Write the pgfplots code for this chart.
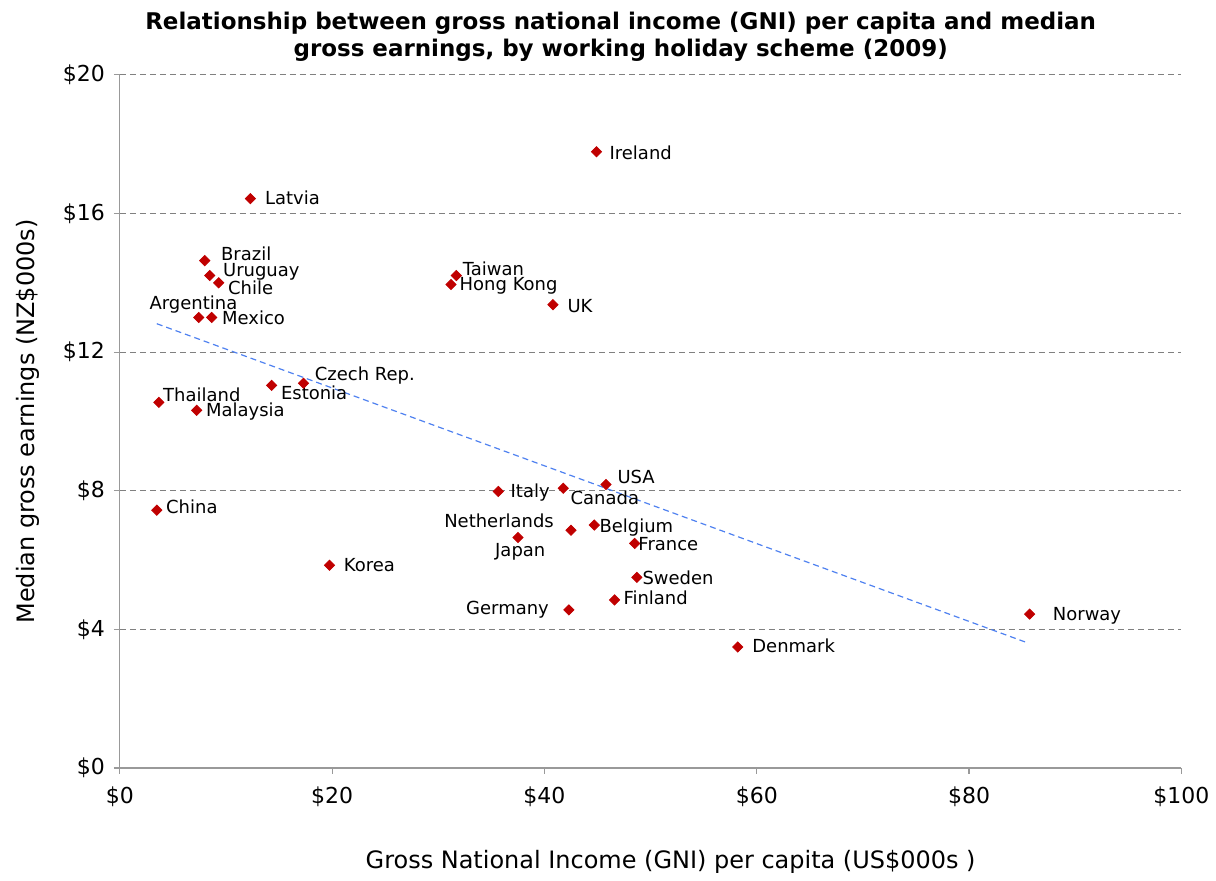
\documentclass[border=0pt]{standalone}
\usepackage{pgfplots}
\pgfplotsset{compat=1.18}
\usepackage{fontspec}
\setmainfont{DejaVu Sans}
\definecolor{pt}{HTML}{C00000}
\definecolor{trend}{HTML}{4F81F0}
\begin{document}
\begin{tikzpicture}
\begin{axis}[name=ax,
  scale only axis, width=531.5pt, height=347pt,
  xmin=0, xmax=100, ymin=0, ymax=20,
  xtick={0,20,40,60,80,100}, xticklabels={\$0,\$20,\$40,\$60,\$80,\$100},
  ytick={0,4,8,12,16,20}, yticklabels={\$0,\$4,\$8,\$12,\$16,\$20},
  axis x line*=bottom, axis y line*=left,
  axis line style={draw=gray!80, line width=0.6pt, -},
  tick align=outside, major tick length=3pt,
  tick style={draw=gray!80, line width=0.6pt},
  ymajorgrids, grid style={densely dashed, gray, line width=0.4pt},
  tick label style={font=\fontsize{11}{13}\selectfont, text=black},
  xticklabel style={yshift=-3pt},
  yticklabel style={xshift=-1pt},
  xlabel={Gross National Income (GNI) per capita (US\$000s )},
  ylabel={Median gross earnings (NZ\$000s)},
  label style={font=\fontsize{12}{14}\selectfont},
  xlabel style={yshift=-15pt, xshift=10pt},
  ylabel style={yshift=5pt},
  title={Relationship between gross national income (GNI) per capita and median\\gross earnings, by working holiday scheme (2009)},
  title style={font=\bfseries\fontsize{11.5}{13.5}\selectfont, align=center, yshift=-3pt, xshift=-15pt},
  clip=false,
]
\addplot[trend, densely dashed, line width=0.6pt] coordinates {(3.48,12.82) (85.6,3.60)};
\addplot[only marks, mark=square*, mark size=1.8pt, mark options={rotate=45}, color=pt] coordinates {
(44.9,17.78) (12.3,16.43) (8.0,14.64) (8.47,14.21) (9.31,14.0) (7.43,13.0) (8.65,13.0)
(31.7,14.21) (31.2,13.95) (40.8,13.37) (3.67,10.55) (7.24,10.32) (14.3,11.04) (17.3,11.1)
(3.48,7.44) (19.75,5.85) (35.65,7.98) (41.77,8.07) (45.8,8.18) (42.5,6.86) (37.5,6.65)
(44.7,7.01) (48.5,6.48) (48.7,5.50) (46.6,4.85) (42.3,4.56) (58.2,3.49) (85.7,4.44)
};
\begin{scope}[every node/.style={font=\fontsize{9}{10}\selectfont, inner sep=0pt, anchor=west}]
\node at (axis cs:46.1,17.75) {Ireland};
\node at (axis cs:13.64,16.46) {Latvia};
\node at (axis cs:9.50,14.84) {Brazil};
\node at (axis cs:9.69,14.33) {Uruguay};
\node at (axis cs:10.16,13.87) {Chile};
\node[anchor=east] at (axis cs:11.10,13.37) {Argentina};
\node at (axis cs:9.60,13.0) {Mexico};
\node at (axis cs:32.27,14.41) {Taiwan};
\node at (axis cs:31.98,13.92) {Hong Kong};
\node at (axis cs:42.14,13.34) {UK};
\node at (axis cs:4.05,10.78) {Thailand};
\node at (axis cs:8.09,10.29) {Malaysia};
\node at (axis cs:15.15,10.84) {Estonia};
\node at (axis cs:18.34,11.33) {Czech Rep.};
\node at (axis cs:4.33,7.55) {China};
\node at (axis cs:21.07,5.85) {Korea};
\node at (axis cs:36.78,7.95) {Italy};
\node at (axis cs:42.43,7.81) {Canada};
\node at (axis cs:46.85,8.39) {USA};
\node[anchor=east] at (axis cs:40.92,7.12) {Netherlands};
\node[anchor=center] at (axis cs:37.72,6.25) {Japan};
\node at (axis cs:45.15,6.95) {Belgium};
\node at (axis cs:48.82,6.46) {France};
\node at (axis cs:49.2,5.50) {Sweden};
\node at (axis cs:47.41,4.90) {Finland};
\node[anchor=east] at (axis cs:40.45,4.58) {Germany};
\node at (axis cs:59.55,3.52) {Denmark};
\node at (axis cs:87.86,4.38) {Norway};
\end{scope}
\end{axis}
\path ([shift={(-60pt,-52pt)}]ax.south west) rectangle ([shift={(16.5pt,37.5pt)}]ax.north east);
\end{tikzpicture}
\end{document}
